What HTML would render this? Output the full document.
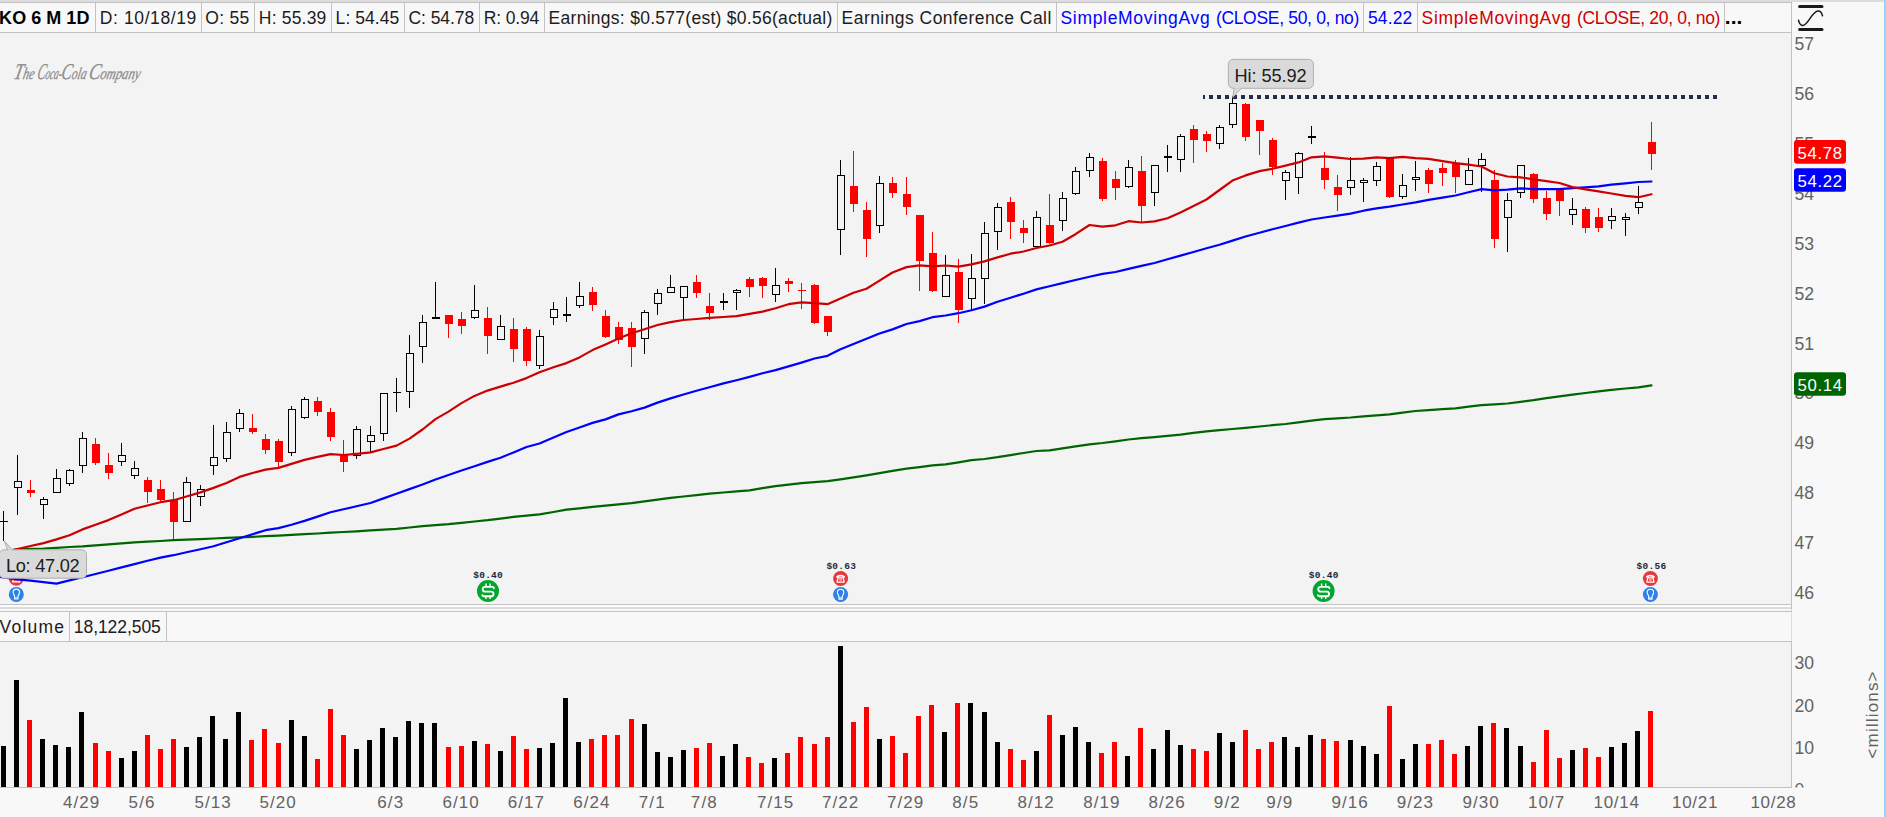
<!DOCTYPE html><html lang="en"><head><meta charset="utf-8"><title>KO 6 M 1D</title>
<style>html,body{margin:0;padding:0;background:#f3f3f3;overflow:hidden}body{width:1886px;height:817px;position:relative}svg{position:absolute;left:0;top:0;display:block}text{font-family:"Liberation Sans", "DejaVu Sans", sans-serif}.hd{font-size:17.5px;fill:#1c1c1c}.ax{font-size:17px;fill:#636363}.tag{font-size:16.8px;fill:#fff}.lg{font-family:"Liberation Serif","DejaVu Serif",serif;font-style:italic;font-size:16.5px;fill:#8a8a8a;stroke:#8a8a8a;stroke-width:0.25px}.mono{font-family:"Liberation Mono","DejaVu Sans Mono",monospace;font-size:9.5px;font-weight:bold;fill:#1e2a3a}</style></head><body>
<svg width="1886" height="817" viewBox="0 0 1886 817">
<rect x="0" y="0" width="1886" height="817" fill="#f3f3f3"/>
<rect x="1792" y="0" width="92" height="817" fill="#f8f8f8"/>
<rect x="0" y="0" width="1884" height="2" fill="#dcdcdc"/>
<rect x="1884" y="0" width="2" height="817" fill="#90d6fb"/>
<rect x="0" y="2.2" width="1791.5" height="30" fill="#f8f8f8"/>
<path d="M0 2.5H1792M0 32.5H1792" stroke="#c2c2c2" stroke-width="1" fill="none"/>
<path d="M95.5 3V32M201.5 3V32M254.5 3V32M331.5 3V32M404.5 3V32M479.5 3V32M544.5 3V32M837.5 3V32M1056.5 3V32M1363.5 3V32M1417.5 3V32M1724.5 3V32" stroke="#c2c2c2" stroke-width="1" fill="none"/>
<path d="M1791.5 3V788" stroke="#c2c2c2" stroke-width="1" fill="none"/>
<text class="hd" x="-0.9" y="24" textLength="90.3" lengthAdjust="spacing" style="fill:#000;font-weight:bold;font-size:18px">KO 6 M 1D</text>
<text class="hd" x="99.8" y="24" textLength="96.5" lengthAdjust="spacing" style="fill:#1c1c1c">D: 10/18/19</text>
<text class="hd" x="205.3" y="24" textLength="44" lengthAdjust="spacing" style="fill:#1c1c1c">O: 55</text>
<text class="hd" x="258.8" y="24" textLength="67.5" lengthAdjust="spacing" style="fill:#1c1c1c">H: 55.39</text>
<text class="hd" x="335.6" y="24" textLength="63.7" lengthAdjust="spacing" style="fill:#1c1c1c">L: 54.45</text>
<text class="hd" x="408.4" y="24" textLength="65.9" lengthAdjust="spacing" style="fill:#1c1c1c">C: 54.78</text>
<text class="hd" x="483.8" y="24" textLength="55.5" lengthAdjust="spacing" style="fill:#1c1c1c">R: 0.94</text>
<text class="hd" x="548.6" y="24" textLength="283.7" lengthAdjust="spacing" style="fill:#1c1c1c">Earnings: $0.577(est) $0.56(actual)</text>
<text class="hd" x="841.6" y="24" textLength="209.7" lengthAdjust="spacing" style="fill:#1c1c1c">Earnings Conference Call</text>
<text class="hd" y="24" style="fill:#0000ff"><tspan x="1060.5" textLength="149.2" lengthAdjust="spacing">SimpleMovingAvg</tspan> <tspan x="1215.9" textLength="143.4" lengthAdjust="spacing">(CLOSE, 50, 0, no)</tspan></text>
<text class="hd" x="1368" y="24" textLength="44.3" lengthAdjust="spacing" style="fill:#0000ff">54.22</text>
<text class="hd" y="24" style="fill:#cc0000"><tspan x="1421.6" textLength="149.2" lengthAdjust="spacing">SimpleMovingAvg</tspan> <tspan x="1577" textLength="143.4" lengthAdjust="spacing">(CLOSE, 20, 0, no)</tspan></text>
<text class="hd" x="1724.7" y="24.1" textLength="17.7" lengthAdjust="spacing" style="fill:#000;font-weight:bold;font-size:21px">...</text>
<g stroke="#1a1a1a" fill="none" stroke-linecap="round"><path d="M1799.6 6.5H1822M1799.6 29.5H1822" stroke-width="3"/><path d="M1798.5 20.2C1799.5 24.6 1801 25.7 1803 25.4C1808.4 24.6 1811.8 11.6 1818 11C1820.6 10.8 1821.8 13 1822.5 15.7" stroke-width="1.5"/></g>
<path d="M0 604.5H1792" stroke="#c2c2c2" stroke-width="1"/>
<rect x="0" y="605" width="1791" height="2" fill="#fcfcfc"/>
<rect x="0" y="607" width="1791" height="2.2" fill="#dcdcdc"/>
<rect x="0" y="609.2" width="1791.5" height="32" fill="#f8f8f8"/>
<path d="M0 611.5H1792M0 641.5H1792M69.5 612V641M166.5 612V641" stroke="#c2c2c2" stroke-width="1" fill="none"/>
<path d="M0 787.5H1792" stroke="#c2c2c2" stroke-width="1"/>
<rect x="0" y="788" width="1792" height="29" fill="#f8f8f8"/>
<text class="hd" x="-0.5" y="633" textLength="64.5" lengthAdjust="spacing">Volume</text>
<text class="hd" x="73.8" y="633" textLength="87" lengthAdjust="spacing">18,122,505</text>
<g transform="translate(0 78.8) skewX(-12)"><text class="lg" x="13" y="0" textLength="20.5" lengthAdjust="spacingAndGlyphs"><tspan style="font-size:22.5px">T</tspan>he</text><text class="lg" x="36.4" y="0" textLength="24.6" lengthAdjust="spacingAndGlyphs"><tspan style="font-size:22.5px">C</tspan>oca-</text><text class="lg" x="60.6" y="0" textLength="25" lengthAdjust="spacingAndGlyphs"><tspan style="font-size:22.5px">C</tspan>ola</text><text class="lg" x="88" y="0" textLength="51.6" lengthAdjust="spacingAndGlyphs"><tspan style="font-size:22.5px">C</tspan>ompany</text></g>
<text class="ax" x="1794.6" y="599.1" textLength="19.4" lengthAdjust="spacing" style="font-size:17.6px">46</text>
<text class="ax" x="1794.6" y="549.2" textLength="19.4" lengthAdjust="spacing" style="font-size:17.6px">47</text>
<text class="ax" x="1794.6" y="499.3" textLength="19.4" lengthAdjust="spacing" style="font-size:17.6px">48</text>
<text class="ax" x="1794.6" y="449.4" textLength="19.4" lengthAdjust="spacing" style="font-size:17.6px">49</text>
<text class="ax" x="1794.6" y="399.4" textLength="19.4" lengthAdjust="spacing" style="font-size:17.6px">50</text>
<text class="ax" x="1794.6" y="349.5" textLength="19.4" lengthAdjust="spacing" style="font-size:17.6px">51</text>
<text class="ax" x="1794.6" y="299.6" textLength="19.4" lengthAdjust="spacing" style="font-size:17.6px">52</text>
<text class="ax" x="1794.6" y="249.7" textLength="19.4" lengthAdjust="spacing" style="font-size:17.6px">53</text>
<text class="ax" x="1794.6" y="199.8" textLength="19.4" lengthAdjust="spacing" style="font-size:17.6px">54</text>
<text class="ax" x="1794.6" y="149.8" textLength="19.4" lengthAdjust="spacing" style="font-size:17.6px">55</text>
<text class="ax" x="1794.6" y="99.9" textLength="19.4" lengthAdjust="spacing" style="font-size:17.6px">56</text>
<text class="ax" x="1794.6" y="50" textLength="19.4" lengthAdjust="spacing" style="font-size:17.6px">57</text>
<path d="M1203 97H1717" stroke="#232f47" stroke-width="4" stroke-dasharray="4 4" stroke-dashoffset="2" fill="none" shape-rendering="crispEdges"/>
<g transform="translate(16.3 578.3)"><circle r="7.5" fill="#e8383e"/><path d="M-4.6 -1.2C-4.6 -4.6 4.6 -4.6 4.6 -1.2L3 -0.6C2.4 -2.6 -2.4 -2.6 -3 -0.6Z" fill="#fff"/><path d="M-3.6 3.6L-2.6 -0.6H2.6L3.6 3.6Z" fill="none" stroke="#fff" stroke-width="1.2" stroke-linejoin="round"/><rect x="-1.4" y="0.6" width="2.8" height="1.8" fill="#fff" opacity="0.55"/></g>
<g transform="translate(16.3 594.4)"><circle r="7.5" fill="#2f80e8"/><path d="M-1.7 4.6V2.2C-1.7 0.6 -3.2 -0.2 -3.2 -2.1A3.2 3.2 0 0 1 3.2 -2.1C3.2 -0.2 1.7 0.6 1.7 2.2V4.6Z" fill="none" stroke="#fff" stroke-width="1.1" stroke-linejoin="round"/><path d="M-1.2 3.2H1.2" stroke="#fff" stroke-width="0.9"/></g>
<g transform="translate(488 591)"><circle r="11" fill="#00a62e"/><path d="M5.9 -2.8C5.9 -3.8 5.4 -4.1 4.5 -4.1H-2.8C-4.6 -4.1 -5.3 -3.2 -5.3 -1.8C-5.3 -0.2 -4.4 0.6 -2.8 0.6H3C4.8 0.6 5.5 1.5 5.5 2.9C5.5 4.5 4.6 5.3 3 5.3H-4.4C-5.3 5.3 -5.7 4.9 -5.7 4.1" fill="none" stroke="#fff" stroke-width="1.9" stroke-linecap="round"/><path d="M-2 -7.4V-4.6M2.1 -7.4V-4.6M-2 5.8V8M2.1 5.8V8" stroke="#fff" stroke-width="1.4"/></g>
<text class="mono" x="473.2" y="578.2" textLength="29.6" lengthAdjust="spacing">$0.40</text>
<g transform="translate(840.6 578.5)"><circle r="7.5" fill="#e8383e"/><path d="M-4.6 -1.2C-4.6 -4.6 4.6 -4.6 4.6 -1.2L3 -0.6C2.4 -2.6 -2.4 -2.6 -3 -0.6Z" fill="#fff"/><path d="M-3.6 3.6L-2.6 -0.6H2.6L3.6 3.6Z" fill="none" stroke="#fff" stroke-width="1.2" stroke-linejoin="round"/><rect x="-1.4" y="0.6" width="2.8" height="1.8" fill="#fff" opacity="0.55"/></g>
<g transform="translate(840.6 594.5)"><circle r="7.5" fill="#2f80e8"/><path d="M-1.7 4.6V2.2C-1.7 0.6 -3.2 -0.2 -3.2 -2.1A3.2 3.2 0 0 1 3.2 -2.1C3.2 -0.2 1.7 0.6 1.7 2.2V4.6Z" fill="none" stroke="#fff" stroke-width="1.1" stroke-linejoin="round"/><path d="M-1.2 3.2H1.2" stroke="#fff" stroke-width="0.9"/></g>
<text class="mono" x="826.4" y="568.8" textLength="29.6" lengthAdjust="spacing">$0.63</text>
<g transform="translate(1323.6 591)"><circle r="11" fill="#00a62e"/><path d="M5.9 -2.8C5.9 -3.8 5.4 -4.1 4.5 -4.1H-2.8C-4.6 -4.1 -5.3 -3.2 -5.3 -1.8C-5.3 -0.2 -4.4 0.6 -2.8 0.6H3C4.8 0.6 5.5 1.5 5.5 2.9C5.5 4.5 4.6 5.3 3 5.3H-4.4C-5.3 5.3 -5.7 4.9 -5.7 4.1" fill="none" stroke="#fff" stroke-width="1.9" stroke-linecap="round"/><path d="M-2 -7.4V-4.6M2.1 -7.4V-4.6M-2 5.8V8M2.1 5.8V8" stroke="#fff" stroke-width="1.4"/></g>
<text class="mono" x="1308.8" y="578.2" textLength="29.6" lengthAdjust="spacing">$0.40</text>
<g transform="translate(1650.4 578.5)"><circle r="7.5" fill="#e8383e"/><path d="M-4.6 -1.2C-4.6 -4.6 4.6 -4.6 4.6 -1.2L3 -0.6C2.4 -2.6 -2.4 -2.6 -3 -0.6Z" fill="#fff"/><path d="M-3.6 3.6L-2.6 -0.6H2.6L3.6 3.6Z" fill="none" stroke="#fff" stroke-width="1.2" stroke-linejoin="round"/><rect x="-1.4" y="0.6" width="2.8" height="1.8" fill="#fff" opacity="0.55"/></g>
<g transform="translate(1650.4 594.5)"><circle r="7.5" fill="#2f80e8"/><path d="M-1.7 4.6V2.2C-1.7 0.6 -3.2 -0.2 -3.2 -2.1A3.2 3.2 0 0 1 3.2 -2.1C3.2 -0.2 1.7 0.6 1.7 2.2V4.6Z" fill="none" stroke="#fff" stroke-width="1.1" stroke-linejoin="round"/><path d="M-1.2 3.2H1.2" stroke="#fff" stroke-width="0.9"/></g>
<text class="mono" x="1636.6" y="568.8" textLength="29.6" lengthAdjust="spacing">$0.56</text>
<g stroke="#ff0000" stroke-width="1" fill="#ff0000" shape-rendering="crispEdges"><path d="M30.5 480V497"/><rect stroke="none" x="27" y="490" width="8" height="3"/><path d="M95.5 438V465"/><rect stroke="none" x="92" y="444" width="8" height="19"/><path d="M108.5 453V479"/><rect stroke="none" x="105" y="465" width="8" height="8"/><path d="M147.5 477V503"/><rect stroke="none" x="144" y="480" width="8" height="12"/><path d="M160.5 480V501"/><rect stroke="none" x="157" y="489" width="8" height="11"/><path d="M173.5 492V539"/><rect stroke="none" x="170" y="500" width="8" height="22"/><path d="M252.5 414V434"/><rect stroke="none" x="249" y="428" width="8" height="4"/><path d="M265.5 434V454"/><rect stroke="none" x="262" y="439" width="8" height="11"/><path d="M278.5 439V468"/><rect stroke="none" x="275" y="441" width="8" height="21"/><path d="M317.5 397V416"/><rect stroke="none" x="314" y="401" width="8" height="11"/><path d="M330.5 408V441"/><rect stroke="none" x="327" y="412" width="8" height="25"/><path d="M343.5 440V472"/><rect stroke="none" x="340" y="454" width="8" height="8"/><path d="M448.5 315V338"/><rect stroke="none" x="445" y="315" width="8" height="9"/><path d="M461.5 312V334"/><rect stroke="none" x="458" y="319" width="8" height="7"/><path d="M487.5 307V354"/><rect stroke="none" x="484" y="318" width="8" height="18"/><path d="M513.5 318V362"/><rect stroke="none" x="510" y="329" width="8" height="20"/><path d="M526.5 327V366"/><rect stroke="none" x="523" y="329" width="8" height="32"/><path d="M592.5 287V311"/><rect stroke="none" x="589" y="292" width="8" height="13"/><path d="M605.5 310V338"/><rect stroke="none" x="602" y="316" width="8" height="21"/><path d="M618.5 322V344"/><rect stroke="none" x="615" y="327" width="8" height="13"/><path d="M631.5 322V367"/><rect stroke="none" x="628" y="328" width="8" height="19"/><path d="M696.5 275V298"/><rect stroke="none" x="693" y="282" width="8" height="11"/><path d="M709.5 293V320"/><rect stroke="none" x="706" y="306" width="8" height="7"/><path d="M749.5 277V297"/><rect stroke="none" x="746" y="279" width="8" height="8"/><path d="M762.5 277V298"/><rect stroke="none" x="759" y="278" width="8" height="8"/><path d="M788.5 278V292"/><rect stroke="none" x="785" y="281" width="8" height="3"/><path d="M801.5 283V309"/><rect stroke="none" x="798" y="290" width="8" height="1"/><path d="M814.5 284V324"/><rect stroke="none" x="811" y="285" width="8" height="38"/><path d="M827.5 316V336"/><rect stroke="none" x="824" y="316" width="8" height="16"/><path d="M853.5 151V212"/><rect stroke="none" x="850" y="186" width="8" height="18"/><path d="M866.5 202V257"/><rect stroke="none" x="863" y="210" width="8" height="29"/><path d="M892.5 177V198"/><rect stroke="none" x="889" y="183" width="8" height="10"/><path d="M906.5 177V215"/><rect stroke="none" x="903" y="194" width="8" height="13"/><path d="M919.5 215V291"/><rect stroke="none" x="916" y="215" width="8" height="46"/><path d="M932.5 232V292"/><rect stroke="none" x="929" y="253" width="8" height="38"/><path d="M958.5 259V323"/><rect stroke="none" x="955" y="272" width="8" height="38"/><path d="M1010.5 197V239"/><rect stroke="none" x="1007" y="202" width="8" height="20"/><path d="M1023.5 220V243"/><rect stroke="none" x="1020" y="228" width="8" height="5"/><path d="M1049.5 194V244"/><rect stroke="none" x="1046" y="225" width="8" height="18"/><path d="M1102.5 158V201"/><rect stroke="none" x="1099" y="161" width="8" height="38"/><path d="M1115.5 171V200"/><rect stroke="none" x="1112" y="179" width="8" height="9"/><path d="M1141.5 156V222"/><rect stroke="none" x="1138" y="171" width="8" height="35"/><path d="M1193.5 125V163"/><rect stroke="none" x="1190" y="129" width="8" height="11"/><path d="M1206.5 131V152"/><rect stroke="none" x="1203" y="134" width="8" height="7"/><path d="M1245.5 103V141"/><rect stroke="none" x="1242" y="104" width="8" height="33"/><path d="M1259.5 120V155"/><rect stroke="none" x="1256" y="120" width="8" height="11"/><path d="M1272.5 138V175"/><rect stroke="none" x="1269" y="140" width="8" height="27"/><path d="M1324.5 152V189"/><rect stroke="none" x="1321" y="168" width="8" height="12"/><path d="M1337.5 175V211"/><rect stroke="none" x="1334" y="187" width="8" height="8"/><path d="M1389.5 157V198"/><rect stroke="none" x="1386" y="157" width="8" height="40"/><path d="M1428.5 168V193"/><rect stroke="none" x="1425" y="170" width="8" height="14"/><path d="M1442.5 163V186"/><rect stroke="none" x="1439" y="168" width="8" height="5"/><path d="M1455.5 160V193"/><rect stroke="none" x="1452" y="163" width="8" height="14"/><path d="M1494.5 170V248"/><rect stroke="none" x="1491" y="180" width="8" height="59"/><path d="M1533.5 173V203"/><rect stroke="none" x="1530" y="174" width="8" height="25"/><path d="M1546.5 191V220"/><rect stroke="none" x="1543" y="198" width="8" height="16"/><path d="M1559.5 190V216"/><rect stroke="none" x="1556" y="190" width="8" height="11"/><path d="M1585.5 207V233"/><rect stroke="none" x="1582" y="209" width="8" height="19"/><path d="M1598.5 208V232"/><rect stroke="none" x="1595" y="217" width="8" height="11"/><path d="M1651.5 122V170"/><rect stroke="none" x="1648" y="142" width="8" height="12"/></g>
<g stroke="#000" stroke-width="1" fill="#f3f3f3" shape-rendering="crispEdges"><path d="M3.5 511V541M0 521.5H8"/><path d="M17.5 455V515"/><rect x="14.5" y="481.5" width="7" height="6"/><path d="M43.5 497V519"/><rect x="40.5" y="499.5" width="7" height="5"/><path d="M56.5 469V493"/><rect x="53.5" y="478.5" width="7" height="14"/><path d="M69.5 469V486"/><rect x="66.5" y="470.5" width="7" height="13"/><path d="M82.5 432V473"/><rect x="79.5" y="438.5" width="7" height="27"/><path d="M121.5 443V466"/><rect x="118.5" y="455.5" width="7" height="6"/><path d="M134.5 461V479"/><rect x="131.5" y="468.5" width="7" height="7"/><path d="M186.5 477V522"/><rect x="183.5" y="482.5" width="7" height="39"/><path d="M200.5 485V506"/><rect x="197.5" y="489.5" width="7" height="7"/><path d="M213.5 425V475"/><rect x="210.5" y="457.5" width="7" height="8"/><path d="M226.5 422V462"/><rect x="223.5" y="432.5" width="7" height="26"/><path d="M239.5 409V432"/><rect x="236.5" y="413.5" width="7" height="15"/><path d="M291.5 406V456"/><rect x="288.5" y="409.5" width="7" height="43"/><path d="M304.5 397V419"/><rect x="301.5" y="399.5" width="7" height="18"/><path d="M356.5 426V459"/><rect x="353.5" y="429.5" width="7" height="26"/><path d="M370.5 426V452"/><rect x="367.5" y="435.5" width="7" height="6"/><path d="M383.5 393V441"/><rect x="380.5" y="393.5" width="7" height="40"/><path d="M396.5 378V412M393 392.5H401"/><path d="M409.5 335V408"/><rect x="406.5" y="353.5" width="7" height="38"/><path d="M422.5 315V363"/><rect x="419.5" y="322.5" width="7" height="24"/><path d="M435.5 282V319"/><rect x="432.5" y="317.5" width="7" height="1"/><path d="M474.5 285V319"/><rect x="471.5" y="310.5" width="7" height="7"/><path d="M500.5 315V340"/><rect x="497.5" y="326.5" width="7" height="13"/><path d="M539.5 330V369"/><rect x="536.5" y="336.5" width="7" height="29"/><path d="M553.5 302V325"/><rect x="550.5" y="309.5" width="7" height="8"/><path d="M566.5 297V322"/><rect x="563.5" y="314.5" width="7" height="1"/><path d="M579.5 282V308"/><rect x="576.5" y="296.5" width="7" height="9"/><path d="M644.5 310V354"/><rect x="641.5" y="312.5" width="7" height="26"/><path d="M657.5 289V315"/><rect x="654.5" y="293.5" width="7" height="10"/><path d="M670.5 275V293"/><rect x="667.5" y="287.5" width="7" height="5"/><path d="M683.5 286V319"/><rect x="680.5" y="286.5" width="7" height="11"/><path d="M723.5 293V310"/><rect x="720.5" y="301.5" width="7" height="1"/><path d="M736.5 289V310"/><rect x="733.5" y="290.5" width="7" height="2"/><path d="M775.5 268V302"/><rect x="772.5" y="285.5" width="7" height="9"/><path d="M840.5 160V255"/><rect x="837.5" y="175.5" width="7" height="54"/><path d="M879.5 176V233"/><rect x="876.5" y="183.5" width="7" height="42"/><path d="M945.5 255V297"/><rect x="942.5" y="275.5" width="7" height="21"/><path d="M971.5 254V310"/><rect x="968.5" y="278.5" width="7" height="20"/><path d="M984.5 222V304"/><rect x="981.5" y="233.5" width="7" height="45"/><path d="M997.5 203V250"/><rect x="994.5" y="207.5" width="7" height="24"/><path d="M1036.5 211V247"/><rect x="1033.5" y="217.5" width="7" height="29"/><path d="M1062.5 192V231"/><rect x="1059.5" y="198.5" width="7" height="22"/><path d="M1075.5 167V195"/><rect x="1072.5" y="171.5" width="7" height="22"/><path d="M1089.5 153V177"/><rect x="1086.5" y="157.5" width="7" height="13"/><path d="M1128.5 160V188"/><rect x="1125.5" y="167.5" width="7" height="19"/><path d="M1154.5 165V206"/><rect x="1151.5" y="165.5" width="7" height="27"/><path d="M1167.5 145V172"/><rect x="1164.5" y="156.5" width="7" height="1"/><path d="M1180.5 134V172"/><rect x="1177.5" y="136.5" width="7" height="23"/><path d="M1219.5 125V149"/><rect x="1216.5" y="127.5" width="7" height="16"/><path d="M1232.5 96V128"/><rect x="1229.5" y="103.5" width="7" height="21"/><path d="M1285.5 170V200"/><rect x="1282.5" y="172.5" width="7" height="8"/><path d="M1298.5 152V194"/><rect x="1295.5" y="153.5" width="7" height="24"/><path d="M1311.5 126V144"/><rect x="1308.5" y="136.5" width="7" height="1"/><path d="M1350.5 157V195"/><rect x="1347.5" y="180.5" width="7" height="7"/><path d="M1363.5 178V202"/><rect x="1360.5" y="180.5" width="7" height="2"/><path d="M1376.5 162V186"/><rect x="1373.5" y="166.5" width="7" height="14"/><path d="M1402.5 174V199"/><rect x="1399.5" y="185.5" width="7" height="11"/><path d="M1415.5 161V191"/><rect x="1412.5" y="177.5" width="7" height="2"/><path d="M1468.5 158V185"/><rect x="1465.5" y="170.5" width="7" height="14"/><path d="M1481.5 153V192"/><rect x="1478.5" y="159.5" width="7" height="6"/><path d="M1507.5 193V252"/><rect x="1504.5" y="200.5" width="7" height="17"/><path d="M1520.5 165V198"/><rect x="1517.5" y="165.5" width="7" height="27"/><path d="M1572.5 198V225"/><rect x="1569.5" y="209.5" width="7" height="5"/><path d="M1611.5 208V229"/><rect x="1608.5" y="216.5" width="7" height="4"/><path d="M1625.5 213V236"/><rect x="1622.5" y="217.5" width="7" height="2"/><path d="M1638.5 186V214"/><rect x="1635.5" y="202.5" width="7" height="5"/></g>
<g fill="none" stroke-width="2.2" stroke-linejoin="round" stroke-linecap="round">
<path d="M4.5 551.6L17.5 549.2L30.5 548.9L43.5 548.6L56.5 547.8L69.5 547L82.5 546.3L95.5 545.3L108.5 544.4L121.5 543.4L134.5 542.4L147.5 541.7L160.5 541L173.5 540.2L186.5 539.7L200.5 539.1L213.5 538.5L226.5 537.9L239.5 537.4L252.5 536.8L265.5 536.2L278.5 535.6L291.5 534.9L304.5 534.2L317.5 533.5L330.5 532.7L343.5 532L356.5 531.3L370.5 530.4L383.5 529.6L396.5 528.9L409.5 527.5L422.5 526.1L435.5 525.1L448.5 524.1L461.5 522.8L474.5 521.5L487.5 520.2L500.5 518.6L513.5 516.9L526.5 515.6L539.5 514.3L553.5 512L566.5 509.7L579.5 508.3L592.5 506.9L605.5 505.6L618.5 504.3L631.5 503.1L644.5 501.4L657.5 499.6L670.5 497.9L683.5 496.5L696.5 495.1L709.5 493.7L723.5 492.5L736.5 491.4L749.5 490.3L762.5 488.2L775.5 486.1L788.5 484.6L801.5 483.1L814.5 482.1L827.5 481.1L840.5 479.3L853.5 477.3L866.5 475.3L879.5 473.1L892.5 470.9L906.5 468.7L919.5 467.1L932.5 465.4L945.5 464.3L958.5 462.3L971.5 460.1L984.5 459L997.5 457.2L1010.5 455.1L1023.5 453L1036.5 451L1049.5 450.3L1062.5 448.4L1075.5 446.4L1089.5 444.3L1102.5 443L1115.5 441.3L1128.5 439.5L1141.5 438.2L1154.5 437.1L1167.5 435.8L1180.5 434.6L1193.5 432.9L1206.5 431.4L1219.5 430.2L1232.5 429L1245.5 427.8L1259.5 426.5L1272.5 425.2L1285.5 424L1298.5 422.3L1311.5 420.7L1324.5 419.1L1337.5 418.3L1350.5 417.5L1363.5 416.4L1376.5 415.3L1389.5 414.3L1402.5 412.7L1415.5 411L1428.5 410.1L1442.5 409.2L1455.5 408.3L1468.5 406.7L1481.5 405.1L1494.5 404.3L1507.5 403.5L1520.5 401.8L1533.5 400.2L1546.5 398.2L1559.5 396.3L1572.5 394.6L1585.5 393L1598.5 391.4L1611.5 389.8L1625.5 388.5L1638.5 387.3L1651.5 385.4" stroke="#006400"/>
<path d="M0 577L3.5 577.5L17.5 579.3L30.5 580.7L43.5 582.2L56.5 583.6L69.5 580.4L82.5 577.2L95.5 574L108.5 570.7L121.5 567.4L134.5 564.1L147.5 560.8L160.5 557.6L173.5 555.2L186.5 552.3L200.5 549.2L213.5 546.3L226.5 542.3L239.5 538.2L252.5 534.2L265.5 530.2L278.5 528.1L291.5 524.7L304.5 520.9L317.5 516.6L330.5 512.3L343.5 509.3L356.5 506.3L370.5 503L383.5 498.4L396.5 493.7L409.5 489.1L422.5 484.5L435.5 479.5L448.5 475L461.5 470.5L474.5 466.2L487.5 461.9L500.5 457.7L513.5 452.4L526.5 447L539.5 443.5L553.5 437.6L566.5 432L579.5 427.5L592.5 422.9L605.5 419.4L618.5 414.4L631.5 411.3L644.5 407.6L657.5 402.6L670.5 398.4L683.5 394.5L696.5 390.8L709.5 387.3L723.5 383.4L736.5 380.2L749.5 376.9L762.5 373.3L775.5 370.1L788.5 366.4L801.5 362.6L814.5 358.5L827.5 355.8L840.5 349.3L853.5 344L866.5 338.8L879.5 333.5L892.5 329.4L906.5 324L919.5 321.1L932.5 317.2L945.5 315.5L958.5 313.2L971.5 310.3L984.5 306.6L997.5 301.7L1010.5 297.7L1023.5 293.7L1036.5 289.4L1049.5 286.2L1062.5 283.1L1075.5 280L1089.5 276.8L1102.5 273.9L1115.5 272L1128.5 268.9L1141.5 265.9L1154.5 263L1167.5 259.3L1180.5 255.6L1193.5 252L1206.5 248.3L1219.5 244.7L1232.5 240.6L1245.5 236.5L1259.5 232.8L1272.5 229.3L1285.5 226L1298.5 222.6L1311.5 219.5L1324.5 217.5L1337.5 215.6L1350.5 213.6L1363.5 210.7L1376.5 208.4L1389.5 206.6L1402.5 204.5L1415.5 202.4L1428.5 199.9L1442.5 197.6L1455.5 195.5L1468.5 192.2L1481.5 189.1L1494.5 190.3L1507.5 189.7L1520.5 188.3L1533.5 189.1L1546.5 189.2L1559.5 189.2L1572.5 188.2L1585.5 187.3L1598.5 186.4L1611.5 184.7L1625.5 183.3L1638.5 182L1651.5 181.5" stroke="#0000ff"/>
<path d="M4.5 552.5L17.5 549L30.5 546L43.5 543.1L56.5 539.4L69.5 535.3L82.5 529.4L95.5 524.7L108.5 520.1L121.5 514.4L134.5 508.8L147.5 505.5L160.5 502.2L173.5 500.2L186.5 496.5L200.5 492.4L213.5 487.9L226.5 483L239.5 476.9L252.5 473L265.5 469.6L278.5 467.9L291.5 463.9L304.5 459.9L317.5 456.9L330.5 454.1L343.5 455L356.5 453.8L370.5 452.4L383.5 449L396.5 445.6L409.5 438.6L422.5 429.5L435.5 419.1L448.5 411.6L461.5 403.1L474.5 395.9L487.5 390.6L500.5 386.6L513.5 382.7L526.5 378.1L539.5 372.3L553.5 367.3L566.5 363.1L579.5 357.4L592.5 350.1L605.5 344.4L618.5 338.5L631.5 333.3L644.5 329.3L657.5 325L670.5 322.1L683.5 320L696.5 319L709.5 317.9L723.5 317L736.5 316.1L749.5 313.8L762.5 311.6L775.5 308.3L788.5 304.2L801.5 302.3L814.5 303.1L827.5 304.2L840.5 298.6L853.5 292.7L866.5 288.7L879.5 280.6L892.5 272.5L906.5 267.1L919.5 265.4L932.5 266.3L945.5 265.5L958.5 266.6L971.5 264.4L984.5 261.4L997.5 257.4L1010.5 253.7L1023.5 251.5L1036.5 248L1049.5 245.5L1062.5 241.7L1075.5 234.2L1089.5 225L1102.5 226.6L1115.5 225.3L1128.5 221.2L1141.5 222.5L1154.5 221.4L1167.5 218.3L1180.5 212.5L1193.5 206.1L1206.5 199.5L1219.5 190L1232.5 180.6L1245.5 175.4L1259.5 171.1L1272.5 168.8L1285.5 165.6L1298.5 162.4L1311.5 157.3L1324.5 156.4L1337.5 157.7L1350.5 159L1363.5 158.6L1376.5 157.3L1389.5 158.1L1402.5 156.8L1415.5 158.1L1428.5 158.9L1442.5 161.2L1455.5 163.2L1468.5 164.6L1481.5 166.5L1494.5 173.2L1507.5 176.5L1520.5 177.4L1533.5 179.4L1546.5 181.2L1559.5 183L1572.5 187.1L1585.5 189.4L1598.5 191.4L1611.5 193.5L1625.5 195.9L1638.5 197.2L1651.5 194.3" stroke="#cc0000"/>
</g>
<g fill="#000"><rect x="1" y="746" width="5" height="41"/><rect x="14" y="680" width="5" height="107"/><rect x="40" y="739" width="5" height="48"/><rect x="53" y="745" width="5" height="42"/><rect x="66" y="747" width="5" height="40"/><rect x="79" y="712" width="5" height="75"/><rect x="119" y="758" width="5" height="29"/><rect x="132" y="751" width="5" height="36"/><rect x="184" y="747" width="5" height="40"/><rect x="197" y="737" width="5" height="50"/><rect x="210" y="716" width="5" height="71"/><rect x="223" y="739" width="5" height="48"/><rect x="236" y="712" width="5" height="75"/><rect x="289" y="720" width="5" height="67"/><rect x="302" y="736" width="5" height="51"/><rect x="354" y="749" width="5" height="38"/><rect x="367" y="740" width="5" height="47"/><rect x="380" y="728" width="5" height="59"/><rect x="393" y="737" width="5" height="50"/><rect x="406" y="721" width="5" height="66"/><rect x="419" y="723" width="5" height="64"/><rect x="432" y="723" width="5" height="64"/><rect x="472" y="741" width="5" height="46"/><rect x="498" y="751" width="5" height="36"/><rect x="537" y="748" width="5" height="39"/><rect x="550" y="743" width="5" height="44"/><rect x="563" y="698" width="5" height="89"/><rect x="576" y="742" width="5" height="45"/><rect x="642" y="724" width="5" height="63"/><rect x="655" y="752" width="5" height="35"/><rect x="668" y="757" width="5" height="30"/><rect x="681" y="750" width="5" height="37"/><rect x="720" y="756" width="5" height="31"/><rect x="733" y="744" width="5" height="43"/><rect x="772" y="758" width="5" height="29"/><rect x="838" y="646" width="5" height="141"/><rect x="877" y="739" width="5" height="48"/><rect x="942" y="732" width="5" height="55"/><rect x="968" y="703" width="5" height="84"/><rect x="982" y="712" width="5" height="75"/><rect x="995" y="742" width="5" height="45"/><rect x="1034" y="751" width="5" height="36"/><rect x="1060" y="735" width="5" height="52"/><rect x="1073" y="727" width="5" height="60"/><rect x="1086" y="742" width="5" height="45"/><rect x="1125" y="756" width="5" height="31"/><rect x="1151" y="749" width="5" height="38"/><rect x="1165" y="730" width="5" height="57"/><rect x="1178" y="745" width="5" height="42"/><rect x="1217" y="733" width="5" height="54"/><rect x="1230" y="742" width="5" height="45"/><rect x="1282" y="737" width="5" height="50"/><rect x="1295" y="747" width="5" height="40"/><rect x="1308" y="735" width="5" height="52"/><rect x="1348" y="740" width="5" height="47"/><rect x="1361" y="746" width="5" height="41"/><rect x="1374" y="754" width="5" height="33"/><rect x="1400" y="759" width="5" height="28"/><rect x="1413" y="744" width="5" height="43"/><rect x="1465" y="746" width="5" height="41"/><rect x="1478" y="726" width="5" height="61"/><rect x="1504" y="728" width="5" height="59"/><rect x="1518" y="746" width="5" height="41"/><rect x="1570" y="750" width="5" height="37"/><rect x="1609" y="747" width="5" height="40"/><rect x="1622" y="743" width="5" height="44"/><rect x="1635" y="731" width="5" height="56"/></g><g fill="#ff0000"><rect x="27" y="720" width="5" height="67"/><rect x="93" y="743" width="5" height="44"/><rect x="106" y="751" width="5" height="36"/><rect x="145" y="735" width="5" height="52"/><rect x="158" y="749" width="5" height="38"/><rect x="171" y="739" width="5" height="48"/><rect x="249" y="740" width="5" height="47"/><rect x="262" y="729" width="5" height="58"/><rect x="276" y="743" width="5" height="44"/><rect x="315" y="759" width="5" height="28"/><rect x="328" y="709" width="5" height="78"/><rect x="341" y="735" width="5" height="52"/><rect x="446" y="747" width="5" height="40"/><rect x="459" y="746" width="5" height="41"/><rect x="485" y="744" width="5" height="43"/><rect x="511" y="736" width="5" height="51"/><rect x="524" y="749" width="5" height="38"/><rect x="589" y="739" width="5" height="48"/><rect x="602" y="735" width="5" height="52"/><rect x="615" y="735" width="5" height="52"/><rect x="629" y="719" width="5" height="68"/><rect x="694" y="748" width="5" height="39"/><rect x="707" y="743" width="5" height="44"/><rect x="746" y="757" width="5" height="30"/><rect x="759" y="763" width="5" height="24"/><rect x="785" y="753" width="5" height="34"/><rect x="798" y="737" width="5" height="50"/><rect x="812" y="744" width="5" height="43"/><rect x="825" y="737" width="5" height="50"/><rect x="851" y="722" width="5" height="65"/><rect x="864" y="707" width="5" height="80"/><rect x="890" y="736" width="5" height="51"/><rect x="903" y="753" width="5" height="34"/><rect x="916" y="716" width="5" height="71"/><rect x="929" y="705" width="5" height="82"/><rect x="955" y="703" width="5" height="84"/><rect x="1008" y="749" width="5" height="38"/><rect x="1021" y="760" width="5" height="27"/><rect x="1047" y="715" width="5" height="72"/><rect x="1099" y="753" width="5" height="34"/><rect x="1112" y="742" width="5" height="45"/><rect x="1138" y="728" width="5" height="59"/><rect x="1191" y="749" width="5" height="38"/><rect x="1204" y="751" width="5" height="36"/><rect x="1243" y="730" width="5" height="57"/><rect x="1256" y="749" width="5" height="38"/><rect x="1269" y="742" width="5" height="45"/><rect x="1321" y="739" width="5" height="48"/><rect x="1334" y="741" width="5" height="46"/><rect x="1387" y="706" width="5" height="81"/><rect x="1426" y="744" width="5" height="43"/><rect x="1439" y="740" width="5" height="47"/><rect x="1452" y="754" width="5" height="33"/><rect x="1491" y="723" width="5" height="64"/><rect x="1531" y="762" width="5" height="25"/><rect x="1544" y="730" width="5" height="57"/><rect x="1557" y="758" width="5" height="29"/><rect x="1583" y="748" width="5" height="39"/><rect x="1596" y="757" width="5" height="30"/><rect x="1648" y="711" width="5" height="76"/></g>
<text class="ax" x="1794.6" y="669.1" textLength="19.4" lengthAdjust="spacing" style="font-size:17.6px">30</text>
<text class="ax" x="1794.6" y="711.5" textLength="19.4" lengthAdjust="spacing" style="font-size:17.6px">20</text>
<text class="ax" x="1794.6" y="753.9" textLength="19.4" lengthAdjust="spacing" style="font-size:17.6px">10</text>
<clipPath id="c0"><rect x="1792" y="770" width="60" height="17.4"/></clipPath><text class="ax" clip-path="url(#c0)" x="1794.6" y="796.4" style="font-size:17.6px">0</text>
<text class="ax" transform="translate(1878.2 715) rotate(-90)" text-anchor="middle" textLength="87" lengthAdjust="spacing">&lt;millions&gt;</text>
<text class="ax" x="63" y="808.3" textLength="36.2" lengthAdjust="spacing">4/29</text>
<text class="ax" x="128.5" y="808.3" textLength="26" lengthAdjust="spacing">5/6</text>
<text class="ax" x="194.6" y="808.3" textLength="36.2" lengthAdjust="spacing">5/13</text>
<text class="ax" x="259.6" y="808.3" textLength="36.2" lengthAdjust="spacing">5/20</text>
<text class="ax" x="377.2" y="808.3" textLength="26" lengthAdjust="spacing">6/3</text>
<text class="ax" x="442.6" y="808.3" textLength="36.2" lengthAdjust="spacing">6/10</text>
<text class="ax" x="507.8" y="808.3" textLength="36.2" lengthAdjust="spacing">6/17</text>
<text class="ax" x="573.2" y="808.3" textLength="36.2" lengthAdjust="spacing">6/24</text>
<text class="ax" x="638.7" y="808.3" textLength="26" lengthAdjust="spacing">7/1</text>
<text class="ax" x="690.8" y="808.3" textLength="26" lengthAdjust="spacing">7/8</text>
<text class="ax" x="756.9" y="808.3" textLength="36.2" lengthAdjust="spacing">7/15</text>
<text class="ax" x="822" y="808.3" textLength="36.2" lengthAdjust="spacing">7/22</text>
<text class="ax" x="887" y="808.3" textLength="36.2" lengthAdjust="spacing">7/29</text>
<text class="ax" x="952.2" y="808.3" textLength="26" lengthAdjust="spacing">8/5</text>
<text class="ax" x="1017.4" y="808.3" textLength="36.2" lengthAdjust="spacing">8/12</text>
<text class="ax" x="1083.2" y="808.3" textLength="36.2" lengthAdjust="spacing">8/19</text>
<text class="ax" x="1148.4" y="808.3" textLength="36.2" lengthAdjust="spacing">8/26</text>
<text class="ax" x="1213.8" y="808.3" textLength="26" lengthAdjust="spacing">9/2</text>
<text class="ax" x="1266.3" y="808.3" textLength="26" lengthAdjust="spacing">9/9</text>
<text class="ax" x="1331.5" y="808.3" textLength="36.2" lengthAdjust="spacing">9/16</text>
<text class="ax" x="1396.8" y="808.3" textLength="36.2" lengthAdjust="spacing">9/23</text>
<text class="ax" x="1462.6" y="808.3" textLength="36.2" lengthAdjust="spacing">9/30</text>
<text class="ax" x="1528.1" y="808.3" textLength="36.2" lengthAdjust="spacing">10/7</text>
<text class="ax" x="1593.5" y="808.3" textLength="45.4" lengthAdjust="spacing">10/14</text>
<text class="ax" x="1672" y="808.3" textLength="45.4" lengthAdjust="spacing">10/21</text>
<text class="ax" x="1750.4" y="808.3" textLength="45.4" lengthAdjust="spacing">10/28</text>
<rect x="1794" y="140.1" width="52" height="23.6" rx="3.2" fill="#ff0000"/><text class="tag" x="1797.6" y="158.7" textLength="44.4" lengthAdjust="spacing">54.78</text>
<rect x="1794" y="168.2" width="52" height="23.6" rx="3.2" fill="#0000ff"/><text class="tag" x="1797.6" y="186.8" textLength="44.4" lengthAdjust="spacing">54.22</text>
<rect x="1794" y="372.2" width="52" height="23.6" rx="3.2" fill="#006400"/><text class="tag" x="1797.6" y="390.8" textLength="44.4" lengthAdjust="spacing">50.14</text>
<g fill="#dadada" stroke="#aeaeae" stroke-width="1">
<path d="M1232.7 97.5L1234.2 88.2H1241.4Z"/>
<rect x="1228.4" y="59.4" width="85" height="28.9" rx="4.8"/>
<path d="M1234.6 88.7H1240.9L1240.5 87H1234.6Z" stroke="none"/>
<path d="M4.3 541L7.6 550H12.6Z"/>
<rect x="-0.6" y="549.8" width="87.1" height="28.4" rx="4.8"/>
<path d="M8 550.5H12.2V549.3H8Z" stroke="none"/>
</g>
<text class="hd" x="1234.5" y="81.9" textLength="72.2" lengthAdjust="spacing" style="font-size:18.2px">Hi: 55.92</text>
<text class="hd" x="5.9" y="572.1" textLength="73.8" lengthAdjust="spacing" style="font-size:18.2px">Lo: 47.02</text>
</svg></body></html>
